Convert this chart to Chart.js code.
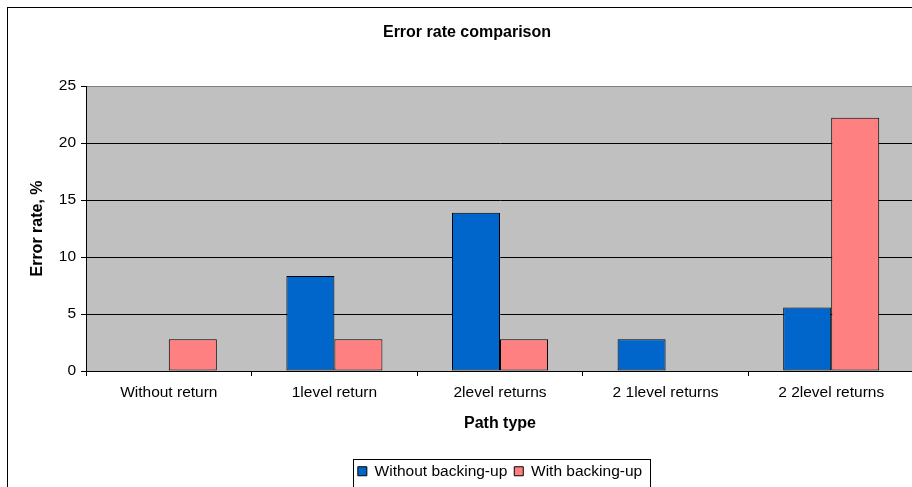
<!DOCTYPE html>
<html>
<head>
<meta charset="utf-8">
<script src="https://cdn.jsdelivr.net/npm/chart.js@4/dist/chart.umd.min.js"></script>
<style>
html, body {
	margin: 0;
	padding: 0;
	overflow: hidden;
	background: #fff;
}
canvas {
	display: block;
}
</style>
</head>
<body>
<canvas id="chart" width="934" height="489"></canvas>
<script>
const categories = ["Without return", "1level return", "2level returns", "2 1level returns", "2 2level returns"];
const withoutBackingUp = [0, 8.33, 13.89, 2.78, 5.56];
const withBackingUp = [2.78, 2.78, 2.78, 0, 22.22];
const yMax = 25;
const yStep = 5;

const family = '"Liberation Sans", Arial, sans-serif';
const tickFont = {family, size: 15.5};
const titleFont = {family, size: 16, weight: 'bold'};

// gray plot area and the outer frame, like the old spreadsheet chart
const frame = {
	id: 'frame',
	beforeDraw(chart)
	{
		const {ctx, chartArea: a} = chart;
		ctx.save();
		ctx.strokeStyle = '#000';
		ctx.lineWidth = 1;
		ctx.strokeRect(7.5, 7.5, 2000, 2000);
		ctx.fillStyle = '#c0c0c0';
		ctx.fillRect(a.left, a.top, a.right - a.left, a.bottom - a.top);
		ctx.strokeStyle = '#808080';
		ctx.strokeRect(a.left + 0.5, a.top + 0.5, a.right - a.left, a.bottom - a.top);
		ctx.restore();
	},
	afterDraw(chart)
	{
		const legend = chart.legend;
		const boxes = legend.legendHitBoxes;
		if (!boxes || !boxes.length)
			return;
		const last = boxes[boxes.length - 1];
		const left = Math.round(boxes[0].left - 5) + 0.5;
		const right = Math.round(last.left + last.width + 8) + 0.5;
		const top = Math.round(legend.top + 2) + 0.5;
		const {ctx} = chart;
		ctx.save();
		ctx.strokeStyle = '#000';
		ctx.lineWidth = 1;
		ctx.strokeRect(left, top, right - left, 100);
		ctx.restore();
	}
};

new Chart(document.getElementById('chart'), {
	type: 'bar',
	data: {
		labels: categories,
		datasets: [
			{label: 'Without backing-up', data: withoutBackingUp,
				backgroundColor: '#0066cc', borderColor: '#000', borderWidth: 1},
			{label: 'With backing-up', data: withBackingUp,
				backgroundColor: '#ff8080', borderColor: '#000', borderWidth: 1}
		]
	},
	options: {
		responsive: false,
		animation: false,
		devicePixelRatio: 1,
		layout: {padding: {left: 20, right: 20, top: 0, bottom: 0}},
		datasets: {bar: {categoryPercentage: 0.58, barPercentage: 1, borderSkipped: false}},
		plugins: {
			title: {display: true,
				text: 'Error rate comparison',
				color: '#000',
				font: titleFont,
				padding: {top: 23, bottom: 43.8}
			},
			legend: {position: 'bottom',
				fullSize: false,
				labels: {color: '#000', font: tickFont, boxWidth: 9, boxHeight: 9, padding: 7}
			},
			tooltip: {enabled: false}
		},
		scales: {
			x: {
				offset: true,
				grid: {display: true, drawOnChartArea: false, drawTicks: true, tickLength: 5,
					offset: true, color: '#000'},
				border: {color: '#000', width: 1},
				ticks: {color: '#000', font: tickFont, padding: 7, maxRotation: 0},
				title: {display: true, text: 'Path type', color: '#000', font: titleFont,
					padding: {top: 0, bottom: 22.9}},
				afterFit(scale) { scale.height = 85.5; }
			},
			y: {
				min: 0,
				max: yMax,
				grid: {color: c => c.tick && c.tick.value === yMax ? '#808080' : '#000',
					tickColor: '#000', tickLength: 5},
				border: {color: '#000', width: 1},
				ticks: {stepSize: yStep, color: '#000', font: tickFont, padding: 5},
				title: {display: true, text: 'Error rate, %', color: '#000', font: titleFont,
					padding: {top: 7.5, bottom: 0}},
				afterFit(scale) { scale.width = 66; }
			}
		}
	},
	plugins: [frame]
});
</script>
</body>
</html>
